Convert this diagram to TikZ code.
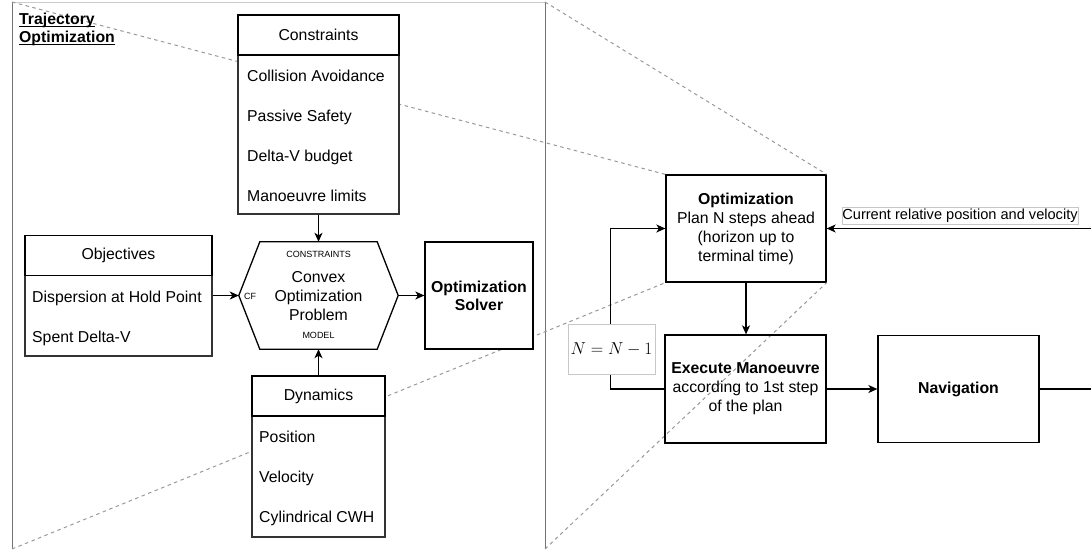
\documentclass[tikz,border=0pt]{standalone}
\usepackage{fontspec}
\setmainfont{Liberation Sans}
\usetikzlibrary{arrows.meta}
\newcommand\myul[1]{\setbox0\hbox{#1}\rlap{\rule[-2.2pt]{\wd0}{1.3pt}}\box0}
\tikzset{
 base/.style={font=\fontsize{15.8}{19}\selectfont, inner sep=2pt},
 blk/.style={base, draw=black, line width=1.3pt, fill=white, align=center},
 hdr/.style={base, draw=black, line width=1.3pt, fill=white},
 body/.style={draw=black!80, line width=1.3pt, fill=white, inner sep=0pt},
 item/.style={base, anchor=west, inner sep=0pt, text height=11.5pt, text depth=0pt},
 arr/.style={line width=1.3pt, -{Stealth[length=9pt,width=8pt,inset=2.5pt]}},
 conn/.style={line width=1.3pt},
 zoomln/.style={draw=black!40, line width=1pt, dash pattern=on 3.5pt off 3.5pt},
 framev/.style={draw=black!55, line width=1pt},
 frameh/.style={draw=black!20, line width=1pt},
 tag/.style={font=\fontsize{9}{10}\selectfont, inner sep=0pt},
 lab/.style={draw=black!22, line width=0.8pt, fill=white, inner sep=1pt}
}
\begin{document}
\begin{tikzpicture}[x=1pt,y=-1pt]
\useasboundingbox (0,0) rectangle (1091,549);
% frame corners
\coordinate (ftl) at (12,2);
\coordinate (ftr) at (545,2);
\coordinate (fbl) at (12,549);
\coordinate (fbr) at (545,549);
\draw[frameh] (ftl) -- (ftr);
\draw[framev] (fbl) -- (ftl);
\draw[framev] (ftr) -- (fbr);
% optimization box (right)
\node[blk, minimum width=160pt, minimum height=107pt] (opt) at (746,228.5)
  {\textbf{Optimization}\\Plan N steps ahead\\(horizon up to\\terminal time)};
% zoom lines
\draw[zoomln] (ftl) -- (opt.north west);
\draw[zoomln] (ftr) -- (opt.north east);
\draw[zoomln] (fbl) -- (opt.south west);
\draw[zoomln] (fbr) -- (opt.south east);
% title
\node[font=\fontsize{15.8}{18}\selectfont\bfseries, anchor=north west, align=left, inner sep=0pt] (title) at (19,13)
  {\myul{Trajectory}\\\myul{Optimization}};
% Constraints list
\node[body, minimum width=161pt, minimum height=159pt] (cB) at (318.5,134.5) {};
\node[hdr, minimum width=161pt, minimum height=40pt] (cH) at (318.5,35) {Constraints};
\node[item] (c1) at (247,76) {Collision Avoidance};
\node[item] (c2) at (247,116) {Passive Safety};
\node[item] (c3) at (247,156) {Delta-V budget};
\node[item] (c4) at (247,196) {Manoeuvre limits};
% Objectives list
\node[body, minimum width=187pt, minimum height=81pt] (oB) at (118.5,315.5) {};
\node[hdr, minimum width=187pt, minimum height=40pt] (oH) at (118.5,255.5) {Objectives};
\node[item] (o1) at (32,297) {Dispersion at Hold Point};
\node[item] (o2) at (32,337) {Spent Delta-V};
% Dynamics list
\node[body, minimum width=133pt, minimum height=121pt] (dB) at (318.5,476.5) {};
\node[hdr, minimum width=133pt, minimum height=40pt] (dH) at (318.5,396) {Dynamics};
\node[item] (d1) at (259,437) {Position};
\node[item] (d2) at (259,477) {Velocity};
\node[item] (d3) at (259,517) {Cylindrical CWH};
% hexagon
\node[minimum width=159pt, minimum height=107pt, inner sep=0pt] (hex) at (318.5,295.5) {};
\draw[conn] (hex.west) -- ([xshift=21pt]hex.north west) -- ([xshift=-21pt]hex.north east)
  -- (hex.east) -- ([xshift=-21pt]hex.south east) -- ([xshift=21pt]hex.south west) -- cycle;
\node[base, align=center] (hext) at (318.5,296.5) {Convex\\Optimization\\Problem};
\node[tag] (t1) at (318.5,254) {CONSTRAINTS};
\node[tag] (t2) at (318.5,335) {MODEL};
\node[tag] (t3) at (250,296) {CF};
% solver
\node[blk, minimum width=108pt, minimum height=107pt, font=\fontsize{15.8}{18}\selectfont\bfseries] (sol) at (479,295.5) {Optimization\\Solver};
% left arrows
\draw[arr] (hex.west -| oB.east) -- (hex.west);
\draw[arr] (hex.east) -- (sol.west);
\draw[arr] (cB.south) -- (hex.north);
\draw[arr] (dH.north) -- (hex.south);
% right side
\node[blk, fill=none, minimum width=161pt, minimum height=108pt] (exe) at (745.5,389)
  {\textbf{Execute Manoeuvre}\\according to 1st step\\of the plan};
\node[blk, minimum width=161pt, minimum height=107pt, font=\fontsize{15.8}{19}\selectfont\bfseries] (nav) at (958.5,389) {Navigation};
\draw[arr] (exe.west) -- ++(-54pt,0) |- (opt.west);
\node[lab, font=\fontsize{18}{20}\selectfont, minimum width=87pt, minimum height=50pt] (nl) at (611.5,349) {$N=N-1$};
\draw[arr] (opt.south) -- (opt.south |- exe.north);
\draw[arr] (exe.east) -- (nav.west);
\coordinate (r1) at (1091,389);
\coordinate (r2) at (1091,228.5);
\draw[conn] (nav.east) -- (r1);
\draw[arr] (r2) -- (opt.east);
\node[lab, font=\fontsize{14.6}{16}\selectfont, minimum width=236pt, minimum height=17pt, inner sep=0pt] (cur) at (960,215.5) {Current relative position and velocity};
\end{tikzpicture}
\end{document}
